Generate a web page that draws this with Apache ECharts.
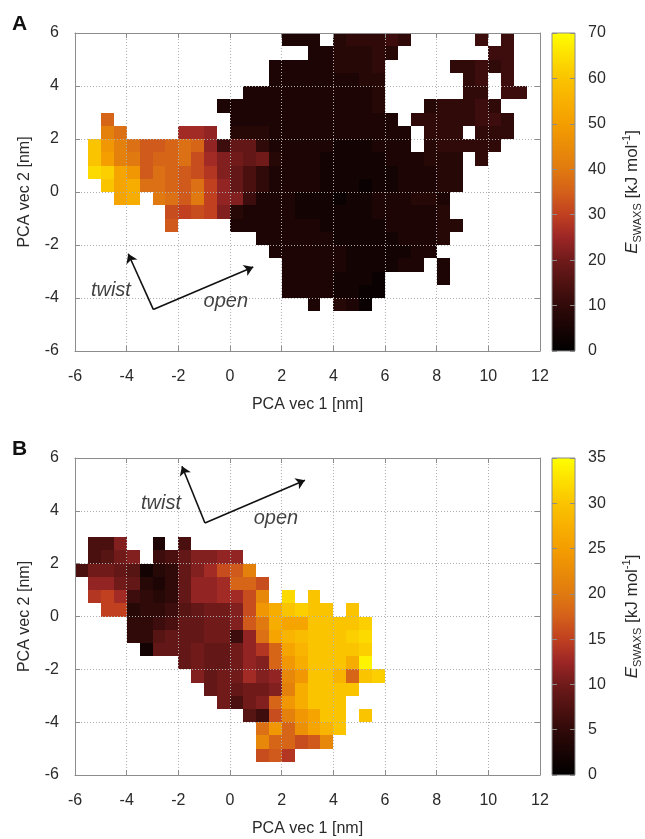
<!DOCTYPE html>
<html>
<head>
<meta charset="utf-8">
<script src="https://cdn.jsdelivr.net/npm/echarts@6/dist/echarts.min.js"></script>
<style>
  html, body { margin: 0; padding: 0; background: #fff; }
  #chart { width: 645px; height: 839px; }
</style>
</head>
<body>
<div id="chart"></div>
<script>
// bins are 0.5 nm square; rows go from the top (y = 6) down, columns from x = -6
// '.' = empty bin, any other char is a base-36 level
var binSize = 0.5;
var xStart = -6;
var yTop = 6;

// panel A: energy = level * 2 kJ/mol
var rowsA = [
  "................333.455565.....6.6",
  "..................3344454.......66",
  "...............333334445.....55656",
  "...............333333344......56.6",
  ".............33333333334......55.66",
  "...........3333333333334...455565",
  "..i.........3333333333333.55555665",
  "..lj....ddc.44433333333333.555.555",
  ".uoljhhijic699533333222333.455555",
  ".uplkhiijgdba9a433322222333444.5",
  ".wvqohjihgeb975333322222233344",
  "..uqrjjihjfc975333322212233344",
  "...qr.kjhkfcb6333222122333443",
  ".......gfgfb43333222222333334",
  ".......h....333333322222333344",
  "..............333333222223334",
  "...............3333332222233",
  "................33333222233.3",
  "................33332221....3",
  "................33332211",
  "..................3.431",
  "",
  "",
  ""
];

// panel B: energy = level kJ/mol
var rowsB = [
  "",
  "",
  "",
  "",
  "",
  "",
  ".77b..3.7",
  ".78ab.679bbcc",
  "7aa982459bdghl",
  ".cca94359ccdiig",
  ".efd65459ccddgm.w.u",
  "..ff455689aabgoruvuu.u",
  "....556799aabhkrqquuuuv",
  "....558999aa6cjqstuuuvw",
  ".....2999a99aceiqsuuuuv",
  "........9a99acbioruuury",
  ".........b9aadbcmouusiuv",
  "..........9a9aablruuuu",
  "...........a7abioruuu",
  ".............86gloquu.u",
  "..............joinqsu",
  "..............miighm",
  "..............ghe",
  ""
];

var scaleA = 2;
var scaleB = 1;
var maxA = 70;
var maxB = 35;

var xTicks = { min: -6, max: 12, step: 2 };
var yTicks = { min: -6, max: 6, step: 2 };

// arrow annotations (data units)
var arrowsA = { origin: [-2.97, -4.43], twist: [-3.94, -2.33], open: [0.9, -2.83] };
var arrowsB = { origin: [-0.97, 3.54], twist: [-1.86, 5.69], open: [2.9, 5.16] };
var wordsA = { twist: [-4.61, -3.71], open: [-0.16, -4.12] };
var wordsB = { twist: [-2.67, 4.29], open: [1.78, 3.72] };

var palette = ["#000000", "#180404", "#300a09", "#4f1211", "#701a1a", "#9c2626",
  "#c04020", "#d4601a", "#e07a10", "#ea8c08", "#f49e00", "#f8b000", "#fac400",
  "#fde000", "#ffff00"];

var font = "Liberation Sans";
var axisGray = "#8c8c8c";
var textColor = "#2a2a2a";

function toCells(rows, scale) {
  var out = [];
  rows.forEach(function (row, r) {
    for (var c = 0; c < row.length; c++) {
      var ch = row[c];
      if (ch === ".") continue;
      out.push([xStart + c * binSize, yTop - (r + 1) * binSize, parseInt(ch, 36) * scale]);
    }
  });
  return out;
}

function renderCell(params, api) {
  var p0 = api.coord([api.value(0), api.value(1) + binSize]);
  var p1 = api.coord([api.value(0) + binSize, api.value(1)]);
  var x = Math.round(p0[0]), y = Math.round(p0[1]);
  return {
    type: "rect",
    shape: { x: x, y: y, width: Math.round(p1[0]) - x, height: Math.round(p1[1]) - y },
    style: { fill: api.visual("color") }
  };
}

function colorbarRenderer(max) {
  var stops = palette.map(function (c, i) {
    return { offset: i / (palette.length - 1), color: c };
  });
  return function (params, api) {
    var p0 = api.coord([0, max]);
    var p1 = api.coord([1, 0]);
    return {
      type: "rect",
      shape: { x: p0[0], y: p0[1], width: p1[0] - p0[0], height: p1[1] - p0[1] },
      style: {
        fill: new echarts.graphic.LinearGradient(0, 1, 0, 0, stops),
        stroke: axisGray,
        lineWidth: 1
      }
    };
  };
}

var labelStyle = { fontSize: 16, color: textColor, fontFamily: font };
var tickStyle = { inside: true, length: 5, lineStyle: { color: axisGray } };
var lineStyle = { show: true, onZero: false, lineStyle: { color: axisGray } };
var noLine = { show: false, onZero: false };
var dotted = { show: true, lineStyle: { color: "#b0b0b0", type: [1, 2], width: 1 } };

function plotXAxes(g) {
  return [
    {
      gridIndex: g, type: "value", min: xTicks.min, max: xTicks.max, interval: xTicks.step,
      position: "bottom", z: 5,
      name: "PCA vec 1 [nm]", nameLocation: "middle", nameGap: 46,
      nameTextStyle: labelStyle,
      axisLabel: Object.assign({ margin: 18 }, labelStyle),
      axisLine: lineStyle, axisTick: tickStyle, splitLine: dotted
    },
    {
      gridIndex: g, type: "value", min: xTicks.min, max: xTicks.max, interval: xTicks.step,
      position: "top", z: 5,
      axisLabel: { show: false }, axisLine: lineStyle, axisTick: tickStyle, splitLine: { show: false }
    }
  ];
}

function plotYAxes(g) {
  return [
    {
      gridIndex: g, type: "value", min: yTicks.min, max: yTicks.max, interval: yTicks.step,
      position: "left", z: 5,
      name: "PCA vec 2 [nm]", nameLocation: "middle", nameGap: 42, nameRotate: 90,
      nameTextStyle: labelStyle,
      axisLabel: Object.assign({ margin: 16 }, labelStyle),
      axisLine: lineStyle, axisTick: tickStyle, splitLine: dotted
    },
    {
      gridIndex: g, type: "value", min: yTicks.min, max: yTicks.max, interval: yTicks.step,
      position: "right", z: 5,
      axisLabel: { show: false }, axisLine: lineStyle, axisTick: tickStyle, splitLine: { show: false }
    }
  ];
}

function colorbarAxes(g, max) {
  return {
    x: { gridIndex: g, type: "value", min: 0, max: 1, show: false, axisLine: noLine },
    y: [
      {
        gridIndex: g, type: "value", min: 0, max: max, interval: max / 7,
        position: "right", z: 5,
        name: "{e|E}{s|SWAXS}{n| [kJ mol}{p|-1}{n|]}",
        nameLocation: "middle", nameGap: 46, nameRotate: 90,
        nameTextStyle: {
          fontFamily: font, color: textColor,
          rich: {
            e: { fontSize: 17, fontStyle: "italic", lineHeight: 22, fontFamily: font, color: textColor },
            s: { fontSize: 11, lineHeight: 12, verticalAlign: "bottom", fontFamily: font, color: textColor },
            n: { fontSize: 17, lineHeight: 22, fontFamily: font, color: textColor },
            p: { fontSize: 11, lineHeight: 12, verticalAlign: "top", fontFamily: font, color: textColor }
          }
        },
        axisLabel: Object.assign({ margin: 13 }, labelStyle),
        axisLine: noLine, axisTick: tickStyle, splitLine: { show: false }
      },
      {
        gridIndex: g, type: "value", min: 0, max: max, interval: max / 7,
        position: "left", z: 5,
        axisLabel: { show: false }, axisLine: noLine, axisTick: tickStyle, splitLine: { show: false }
      }
    ]
  };
}

function arrowSeries(xi, yi, a) {
  return {
    type: "lines", coordinateSystem: "cartesian2d", xAxisIndex: xi, yAxisIndex: yi,
    symbol: ["none", "arrow"], symbolSize: 9, z: 6,
    lineStyle: { color: "#111", width: 1.6, opacity: 1 },
    data: [{ coords: [a.origin, a.twist] }, { coords: [a.origin, a.open] }]
  };
}

function wordSeries(xi, yi, w) {
  return {
    type: "scatter", xAxisIndex: xi, yAxisIndex: yi, symbolSize: 0, z: 6,
    label: {
      show: true, position: "inside", formatter: "{b}",
      fontSize: 20, fontStyle: "italic", color: "#111", fontFamily: font
    },
    data: [{ name: "twist", value: w.twist }, { name: "open", value: w.open }]
  };
}

var cbA = colorbarAxes(1, maxA);
var cbB = colorbarAxes(3, maxB);
var xA = plotXAxes(0), yA = plotYAxes(0);
var xB = plotXAxes(2), yB = plotYAxes(2);

// xAxis: 0,1 A | 2 cbA | 3,4 B | 5 cbB ; yAxis: 0,1 A | 2,3 cbA | 4,5 B | 6,7 cbB
var option = {
  animation: false,
  textStyle: { fontFamily: font },
  grid: [
    { left: 75, top: 33, width: 465, height: 318 },
    { left: 552, top: 33, width: 23, height: 318 },
    { left: 75, top: 458, width: 465, height: 317 },
    { left: 552, top: 458, width: 23, height: 317 }
  ],
  xAxis: [xA[0], xA[1], cbA.x, xB[0], xB[1], cbB.x],
  yAxis: [yA[0], yA[1], cbA.y[0], cbA.y[1], yB[0], yB[1], cbB.y[0], cbB.y[1]],
  visualMap: [
    { type: "continuous", show: false, seriesIndex: 0, dimension: 2, min: 0, max: maxA, inRange: { color: palette } },
    { type: "continuous", show: false, seriesIndex: 1, dimension: 2, min: 0, max: maxB, inRange: { color: palette } }
  ],
  series: [
    { type: "custom", xAxisIndex: 0, yAxisIndex: 0, renderItem: renderCell, encode: { x: 0, y: 1 }, data: toCells(rowsA, scaleA) },
    { type: "custom", xAxisIndex: 3, yAxisIndex: 4, renderItem: renderCell, encode: { x: 0, y: 1 }, data: toCells(rowsB, scaleB) },
    { type: "custom", xAxisIndex: 2, yAxisIndex: 2, renderItem: colorbarRenderer(maxA), data: [[0, 0]] },
    { type: "custom", xAxisIndex: 5, yAxisIndex: 6, renderItem: colorbarRenderer(maxB), data: [[0, 0]] },
    arrowSeries(0, 0, arrowsA),
    arrowSeries(3, 4, arrowsB),
    wordSeries(0, 0, wordsA),
    wordSeries(3, 4, wordsB)
  ],
  graphic: [
    { type: "text", left: 12, top: 14, style: { text: "A", fontSize: 21, fontWeight: "bold", fill: "#111", fontFamily: font } },
    { type: "text", left: 12, top: 439, style: { text: "B", fontSize: 21, fontWeight: "bold", fill: "#111", fontFamily: font } }
  ]
};

var chart = echarts.init(document.getElementById("chart"));
chart.setOption(option);
</script>
</body>
</html>
